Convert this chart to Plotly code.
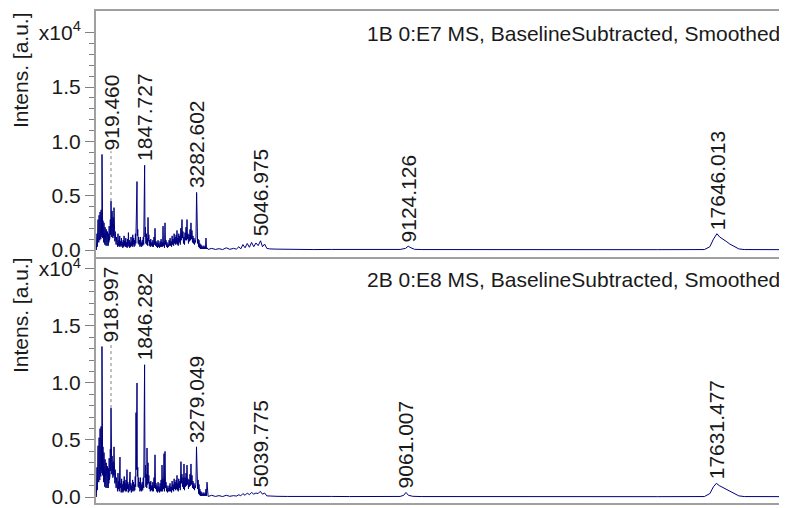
import plotly.graph_objects as go

# spectrum 1B 0:E7 (m/z, intensity a.u.)
mz_1b = [515, 525, 533, 540, 548, 555, 562, 569, 576, 583, 590, 597, 604, 611, 618, 625, 632, 639, 646, 653,
         660, 666, 671, 676, 683, 690, 697, 704, 711, 718, 725, 732, 740, 748, 756, 764, 772, 780, 788, 796,
         804, 812, 820, 828, 836, 844, 852, 860, 868, 876, 884, 892, 900, 908, 919.46, 926, 933, 940, 948, 956,
         964, 972, 980, 988, 996, 1002, 1010, 1018, 1026, 1034, 1042, 1050, 1060, 1070, 1080, 1090, 1100, 1112, 1124, 1136,
         1148, 1160, 1172, 1184, 1196, 1208, 1220, 1232, 1244, 1256, 1268, 1280, 1292, 1304, 1316, 1328, 1340, 1352, 1364, 1376,
         1388, 1400, 1412, 1424, 1436, 1448, 1460, 1472, 1484, 1496, 1508, 1520, 1532, 1544, 1556, 1568, 1580, 1592, 1604, 1618,
         1627, 1637, 1646, 1658, 1670, 1682, 1694, 1706, 1718, 1730, 1742, 1754, 1766, 1780, 1794, 1810, 1822, 1836, 1847.73, 1858,
         1870, 1882, 1894, 1906, 1918, 1930, 1941, 1952, 1964, 1976, 1990, 2004, 2018, 2032, 2046, 2060, 2074, 2090, 2106, 2120,
         2134, 2148, 2162, 2176, 2190, 2204, 2218, 2232, 2246, 2260, 2274, 2288, 2302, 2316, 2330, 2344, 2355, 2368, 2382, 2396,
         2410, 2424, 2438, 2452, 2466, 2480, 2494, 2508, 2522, 2536, 2550, 2564, 2578, 2592, 2606, 2620, 2634, 2648, 2662, 2676,
         2690, 2704, 2718, 2730, 2741, 2752, 2764, 2776, 2790, 2804, 2818, 2832, 2846, 2860, 2879, 2892, 2906, 2920, 2934, 2948,
         2962, 2976, 2990, 3004, 3017, 3030, 3044, 3058, 3072, 3086, 3100, 3114, 3127, 3140, 3154, 3168, 3182, 3196, 3210, 3224,
         3238, 3252, 3265, 3282.6, 3296, 3310, 3324, 3336, 3348, 3360, 3372, 3386, 3400, 3414, 3428, 3442, 3456, 3470, 3484, 3498,
         3512, 3526, 3541, 3556, 3570, 3600, 3700, 3800, 3900, 4000, 4100, 4200, 4300, 4380, 4450, 4500, 4560, 4620, 4680, 4740,
         4800, 4860, 4920, 4980, 5047, 5100, 5160, 5220, 5300, 5500, 5800, 6100, 6500, 7000, 7500, 8000, 8500, 8900, 9050, 9124,
         9200, 9300, 9500, 10500, 12000, 14000, 16000, 17300, 17450, 17550, 17646, 17720, 17800, 17900, 18000, 18100, 18250, 18400, 19000, 19600]
int_1b = [0, 400, 1500, 300, 2000, 600, 2800, 900, 2300, 700, 3200, 1100, 2600, 900, 3500, 1300, 2900, 1000, 3700, 1400,
          3000, 1200, 8800, 1500, 3400, 1100, 2700, 800, 2200, 700, 2500, 600, 1800, 500, 2100, 600, 1500, 400, 1900, 500,
          1300, 400, 1700, 600, 1200, 400, 1500, 700, 2200, 900, 1800, 1200, 2800, 1400, 4500, 1600, 3000, 1200, 3600, 1500,
          2500, 1100, 3000, 1300, 2400, 3900, 1200, 2200, 800, 1700, 600, 1400, 500, 1200, 400, 1000, 300, 1500, 400, 900,
          300, 1300, 400, 800, 300, 1100, 400, 700, 200, 900, 300, 1300, 400, 800, 300, 1100, 300, 700, 200, 1000,
          300, 1600, 400, 900, 200, 700, 300, 1200, 400, 800, 300, 1400, 500, 1100, 300, 900, 400, 1500, 600, 3800,
          2200, 6300, 1300, 1900, 600, 1200, 500, 900, 300, 1200, 400, 700, 300, 900, 400, 1200, 500, 3100, 7800, 1200,
          2100, 600, 1500, 500, 1100, 400, 3000, 800, 1400, 400, 900, 300, 1000, 400, 700, 300, 900, 300, 1200, 500,
          2000, 400, 800, 300, 700, 200, 900, 300, 600, 200, 800, 300, 1000, 300, 700, 300, 2200, 400, 700, 200,
          2500, 500, 900, 300, 700, 200, 500, 300, 900, 400, 1100, 400, 800, 300, 1300, 500, 1000, 400, 1500, 600,
          1200, 500, 1400, 600, 1800, 500, 1100, 400, 1500, 700, 1300, 500, 2000, 900, 2800, 1100, 1700, 600, 1200, 500,
          1600, 900, 2100, 900, 2800, 1000, 1500, 600, 1400, 800, 1900, 900, 2500, 1000, 1800, 700, 1300, 600, 1100, 500,
          900, 700, 1200, 5300, 800, 600, 1000, 300, 900, 200, 600, 100, 500, 100, 400, 100, 300, 100, 400, 100,
          300, 100, 1100, 100, 200, 50, 150, 50, 120, 40, 200, 60, 150, 80, 300, 100, 500, 200, 600, 250,
          700, 300, 650, 400, 850, 300, 550, 150, 100, 80, 50, 60, 40, 50, 40, 40, 30, 50, 150, 350,
          200, 60, 40, 30, 30, 30, 30, 40, 300, 1000, 1500, 1200, 1050, 800, 550, 350, 100, 40, 30, 30]

# spectrum 2B 0:E8 (m/z, intensity a.u.)
mz_2b = [515, 525, 533, 540, 548, 555, 562, 569, 576, 583, 590, 597, 604, 611, 618, 625, 632, 639, 646, 653,
         660, 666, 670, 676, 683, 690, 697, 704, 711, 718, 725, 732, 740, 748, 756, 764, 772, 780, 788, 796,
         804, 812, 820, 828, 836, 844, 852, 860, 868, 876, 884, 892, 900, 908, 919.0, 926, 933, 940, 948, 956,
         964, 972, 980, 988, 996, 1002, 1010, 1018, 1026, 1034, 1042, 1050, 1060, 1070, 1080, 1090, 1100, 1112, 1124, 1136,
         1148, 1160, 1167, 1176, 1188, 1200, 1212, 1224, 1236, 1248, 1260, 1272, 1284, 1296, 1308, 1320, 1332, 1344, 1360, 1372,
         1384, 1396, 1408, 1420, 1432, 1444, 1456, 1468, 1480, 1492, 1504, 1516, 1528, 1540, 1552, 1564, 1576, 1588, 1600, 1610,
         1620, 1637, 1646, 1658, 1670, 1682, 1694, 1706, 1718, 1730, 1742, 1754, 1766, 1780, 1794, 1810, 1822, 1836, 1846.28, 1858,
         1870, 1882, 1894, 1906, 1913, 1925, 1941, 1952, 1964, 1976, 1990, 2004, 2018, 2032, 2046, 2060, 2074, 2090, 2106, 2120,
         2134, 2148, 2162, 2176, 2190, 2204, 2218, 2232, 2246, 2260, 2274, 2288, 2302, 2316, 2327, 2344, 2355, 2368, 2383, 2396,
         2410, 2424, 2438, 2452, 2466, 2480, 2494, 2508, 2522, 2536, 2548, 2564, 2578, 2592, 2606, 2620, 2634, 2648, 2662, 2676,
         2690, 2704, 2718, 2730, 2741, 2752, 2764, 2776, 2790, 2804, 2818, 2832, 2851, 2864, 2878, 2892, 2906, 2920, 2934, 2948,
         2962, 2976, 2990, 3004, 3017, 3030, 3044, 3058, 3072, 3086, 3100, 3114, 3127, 3140, 3155, 3168, 3182, 3196, 3210, 3224,
         3238, 3252, 3265, 3279.05, 3296, 3310, 3324, 3336, 3348, 3360, 3372, 3386, 3400, 3414, 3428, 3442, 3456, 3470, 3484, 3498,
         3512, 3526, 3541, 3556, 3569, 3600, 3700, 3800, 3900, 4000, 4100, 4200, 4300, 4380, 4450, 4500, 4560, 4620, 4680, 4740,
         4800, 4860, 4920, 4980, 5040, 5100, 5160, 5220, 5300, 5500, 5800, 6100, 6500, 7000, 7500, 8000, 8500, 8900, 9000, 9061,
         9130, 9250, 9500, 10500, 12000, 14000, 16000, 17300, 17450, 17550, 17631, 17710, 17800, 17900, 18000, 18100, 18250, 18400, 19000, 19600]
int_2b = [0, 700, 2600, 600, 3400, 1200, 4500, 1600, 3800, 1300, 5200, 1900, 4300, 1500, 6000, 2200, 4800, 1800, 6200, 2400,
          5000, 2100, 13200, 2600, 5400, 1900, 4400, 1500, 3600, 1300, 3900, 1100, 3000, 900, 3300, 1000, 2500, 800, 3000, 900,
          2200, 800, 2700, 1000, 2000, 800, 2500, 1200, 3400, 1500, 2900, 1900, 4200, 2300, 7800, 2600, 4400, 2000, 3600, 2200,
          3500, 1700, 3100, 1900, 3000, 4400, 1700, 2900, 1200, 2400, 900, 2000, 800, 1700, 600, 1500, 500, 2100, 700, 1400,
          500, 1900, 3500, 800, 1200, 400, 1600, 500, 1100, 400, 1400, 500, 1800, 600, 1200, 500, 1500, 500, 2400, 700,
          1300, 400, 1100, 500, 1600, 2200, 600, 1200, 400, 1000, 500, 1500, 600, 1300, 500, 1100, 600, 1800, 900, 7400,
          2400, 10000, 1800, 2600, 900, 1700, 800, 1300, 500, 1700, 600, 1100, 500, 1300, 600, 1700, 800, 7300, 11600, 1700,
          2800, 900, 2000, 800, 4300, 1100, 3000, 1200, 1900, 700, 1300, 500, 1400, 600, 1000, 500, 1300, 500, 1700, 800,
          3700, 700, 1200, 500, 1000, 400, 1300, 500, 900, 400, 1200, 500, 1500, 500, 2800, 500, 1600, 700, 3800, 500,
          4000, 800, 1300, 500, 1000, 400, 800, 500, 1000, 500, 1200, 500, 900, 400, 1400, 600, 1100, 500, 1600, 700,
          1300, 600, 1500, 700, 1900, 600, 1200, 500, 1600, 800, 1400, 600, 3100, 1200, 2000, 900, 1700, 700, 2900, 600,
          1700, 900, 2100, 1000, 2800, 1100, 1600, 700, 1500, 900, 2000, 1000, 2900, 1100, 1900, 800, 1400, 700, 1200, 600,
          1000, 800, 1300, 4400, 900, 700, 1500, 300, 1100, 200, 700, 100, 500, 100, 400, 100, 300, 100, 400, 100,
          300, 100, 700, 100, 1300, 50, 150, 50, 120, 40, 150, 60, 120, 80, 200, 100, 300, 150, 350, 200,
          400, 250, 350, 300, 500, 250, 350, 100, 80, 60, 50, 60, 40, 50, 40, 40, 30, 50, 150, 400,
          150, 60, 40, 30, 30, 30, 30, 40, 300, 900, 1200, 1000, 850, 650, 450, 300, 100, 40, 30, 30]

labels_1b = [919.460, 1847.727, 3282.602, 5046.975, 9124.126, 17646.013]
labels_2b = [918.997, 1846.282, 3279.049, 5039.775, 9061.007, 17631.477]
titles = ["1B 0:E7 MS, BaselineSubtracted, Smoothed", "2B 0:E8 MS, BaselineSubtracted, Smoothed"]

FONT = "Arial, Liberation Sans, sans-serif"
FS = 21
LINE = "#00007f"
GRID = "#a0a0a0"

fig = go.Figure()
panels = [(mz_1b, int_1b, labels_1b, "x", "y"), (mz_2b, int_2b, labels_2b, "x2", "y2")]
for (mz, inten, labels, xa, ya) in panels:
    fig.add_trace(go.Scatter(x=mz, y=inten, mode="lines", line=dict(color=LINE, width=1),
                             xaxis=xa, yaxis=ya, hoverinfo="skip", showlegend=False))
    for lab in labels:
        # label sits above the highest signal nearby, with a dotted leader when needed
        near = [v for m, v in zip(mz, inten) if abs(m - lab) <= 300]
        top = max(near)
        own = min(zip(mz, inten), key=lambda p: abs(p[0] - lab))[1]
        if top - own > 1000:
            fig.add_trace(go.Scatter(x=[lab, lab], y=[own, top + 300], mode="lines",
                                     line=dict(color="#808080", width=1, dash="dot"),
                                     xaxis=xa, yaxis=ya, hoverinfo="skip", showlegend=False))
        fig.add_annotation(x=lab, y=top, xref=xa, yref=ya, text=f"{lab:.3f}", textangle=-90,
                           showarrow=False, xanchor="center", yanchor="bottom", yshift=2,
                           font=dict(family=FONT, size=FS, color="#1a1a1a"))

xr = [505, 19580]
xcommon = dict(range=xr, showticklabels=False, showgrid=False, zeroline=False, ticks="",
               showline=True, mirror=True, linecolor=GRID, linewidth=2)
ycommon = dict(showgrid=False, zeroline=False, showline=True, linecolor=GRID, linewidth=2,
               automargin=False, ticklabeloverflow="allow",
               ticks="outside", ticklen=9, tickcolor="#808080", tickwidth=1,
               tickvals=[0, 5000, 10000, 15000, 20000],
               ticktext=["0.0", "0.5", "1.0", "1.5", "x10<sup>4</sup>"],
               tickfont=dict(family=FONT, size=FS, color="#1a1a1a"),
               minor=dict(tickvals=[v * 1000 for v in range(0, 21)], ticklen=5, tickcolor="#808080", ticks="outside"))

# page body has an 8px default margin, so the figure is 8px smaller than the window
fig.update_layout(
    width=779, height=500, margin=dict(l=88, r=0, t=3, b=5),
    paper_bgcolor="white", plot_bgcolor="white",
    xaxis=dict(xcommon, domain=[0, 1], anchor="y"),
    yaxis=dict(ycommon, domain=[0.5, 1], range=[-645, 22010], anchor="x"),
    xaxis2=dict(xcommon, domain=[0, 1], anchor="y2"),
    yaxis2=dict(ycommon, domain=[0, 0.496], range=[-526, 20880], anchor="x2"),
)

for t, ypos, ytit in [(titles[0], 0.955, 0.880), (titles[1], 0.455, 0.382)]:
    fig.add_annotation(text=t, xref="paper", yref="paper", x=1, y=ypos, xanchor="right", yanchor="middle",
                       xshift=-5, showarrow=False, font=dict(family=FONT, size=FS, color="#1a1a1a"))
    fig.add_annotation(text="Intens. [a.u.]", xref="paper", yref="paper", x=0, y=ytit, textangle=-90,
                       xanchor="center", yanchor="middle", xshift=-76, showarrow=False,
                       font=dict(family=FONT, size=FS, color="#1a1a1a"))

fig.write_html("out.html")
